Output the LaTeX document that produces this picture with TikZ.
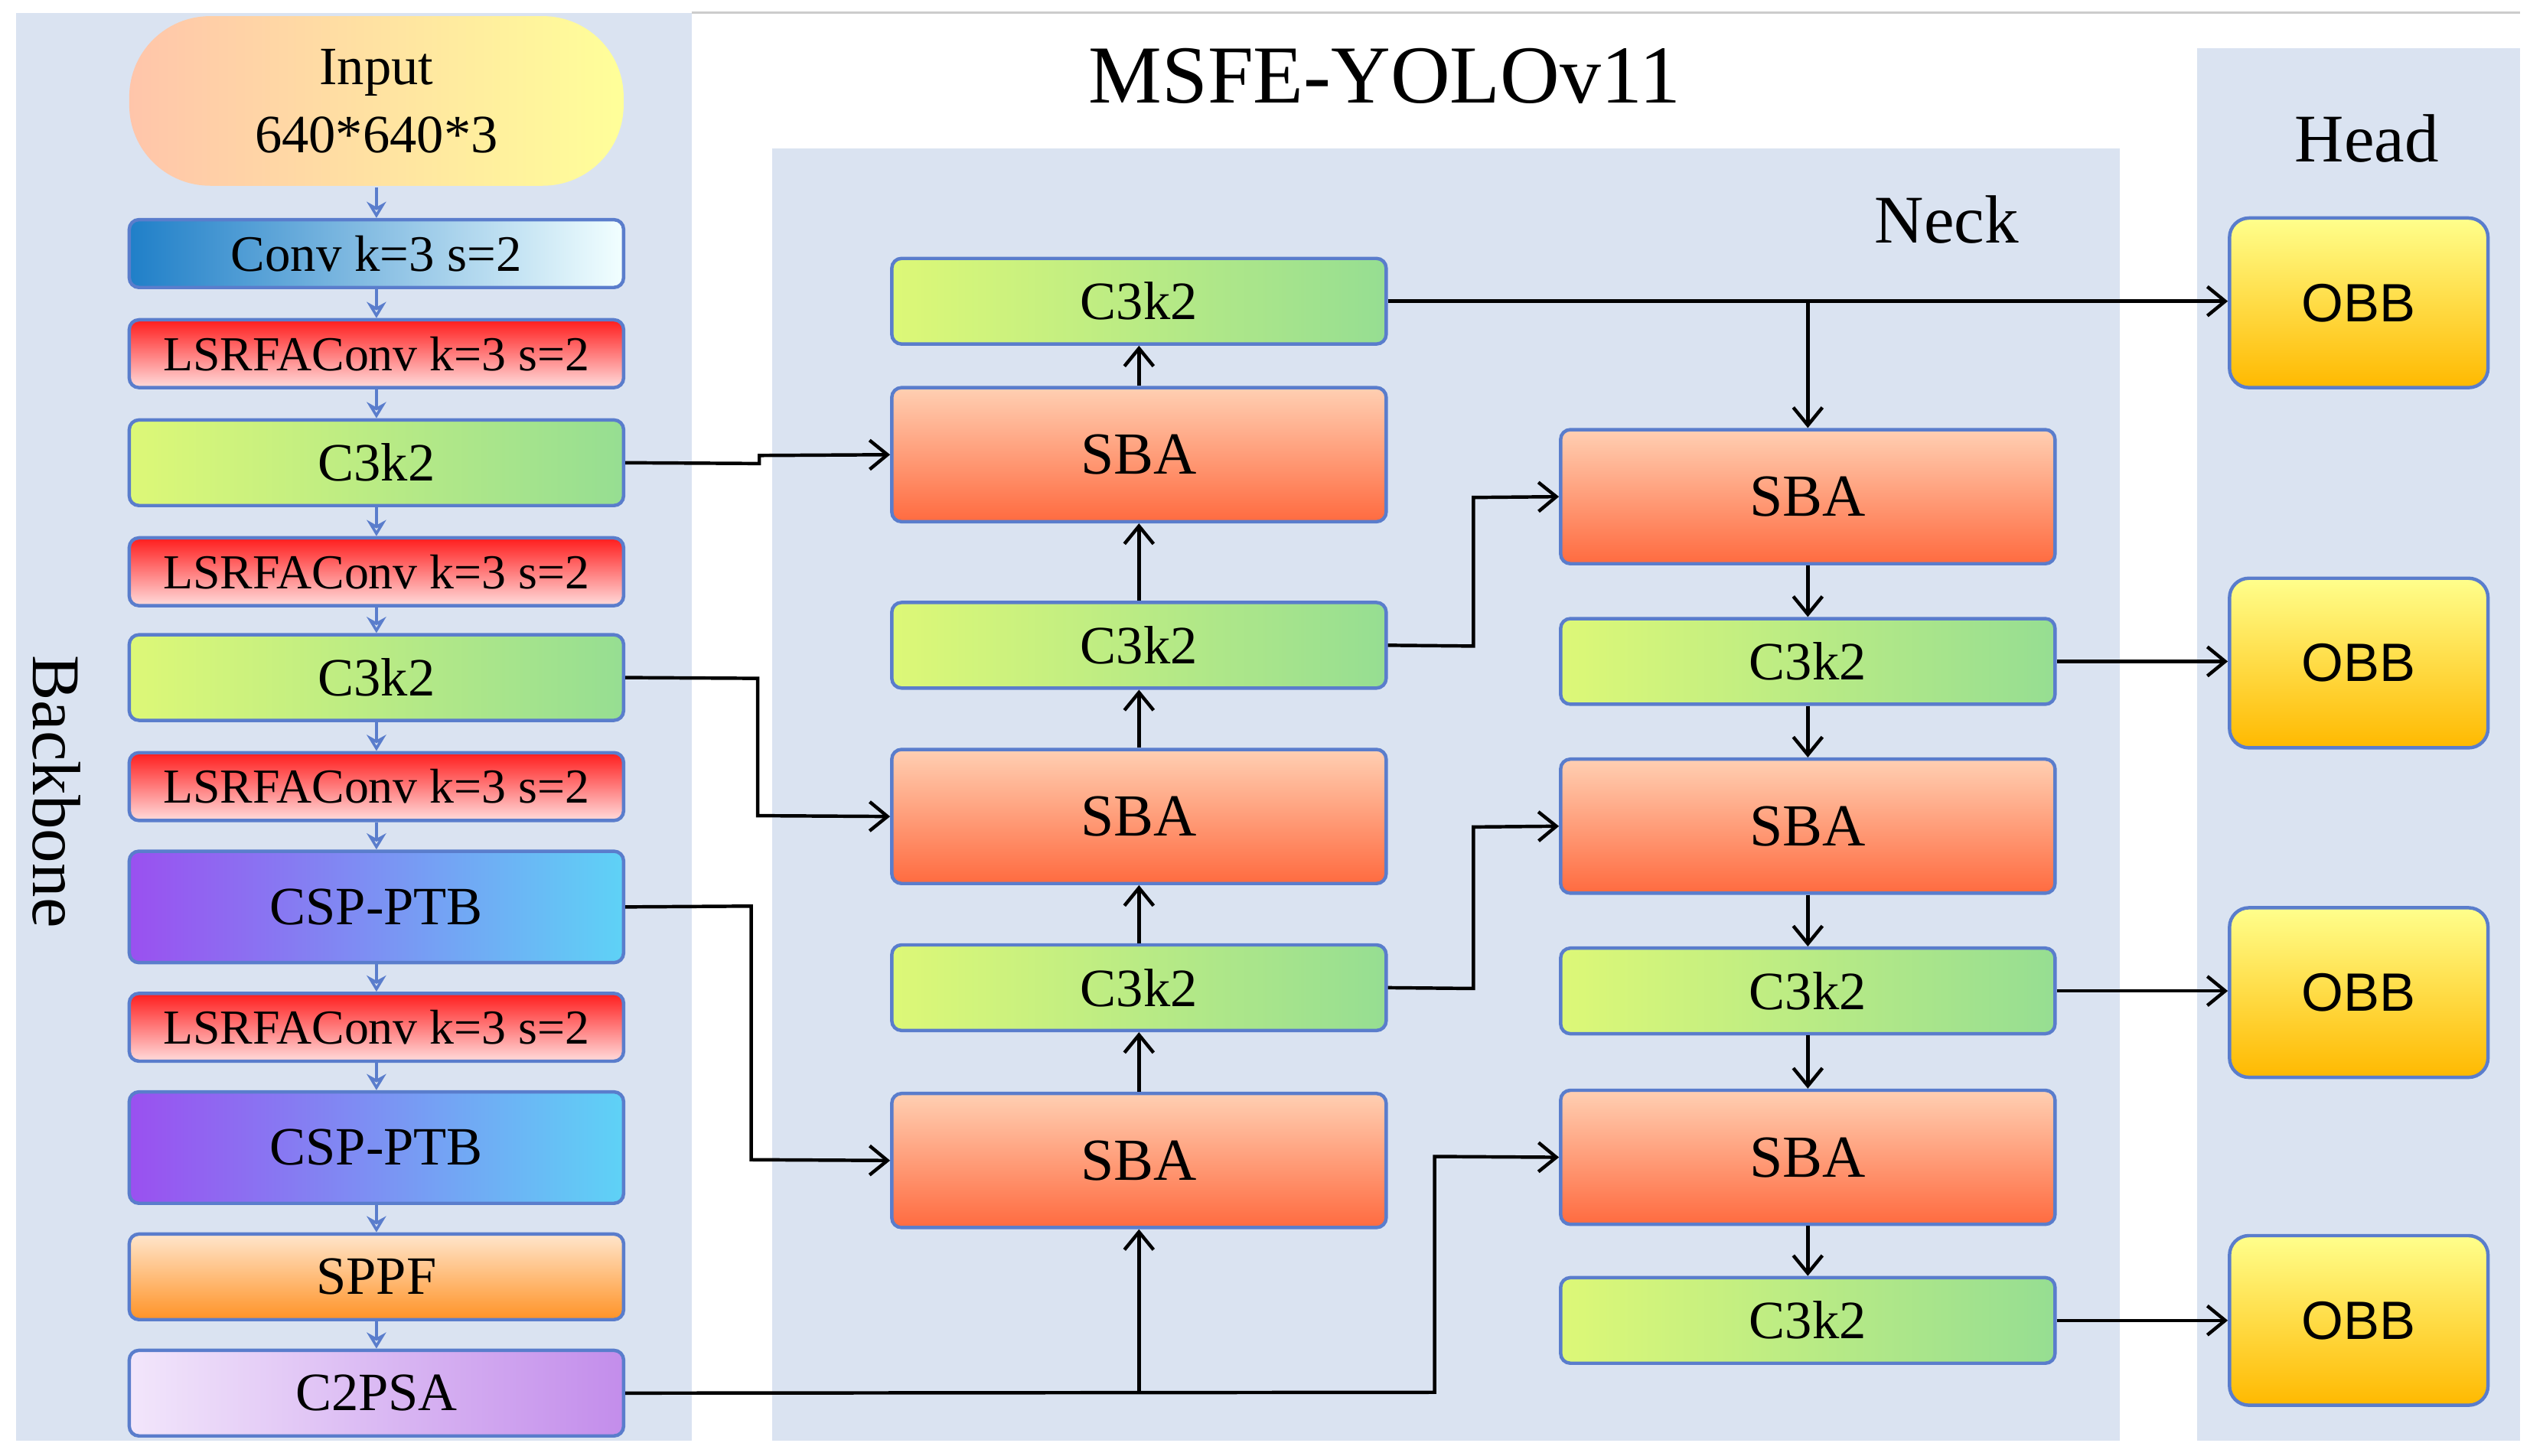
\documentclass[tikz,border=0pt]{standalone}
\usepackage{fontspec}
\setmainfont{Liberation Serif}
\newfontfamily\sansf{Liberation Sans}
\usetikzlibrary{arrows.meta}
\definecolor{panel}{HTML}{DAE3F1}
\definecolor{edge}{HTML}{5A7DCC}
\definecolor{gL}{HTML}{DDF877}
\definecolor{gR}{HTML}{96DE92}
\definecolor{cL}{HTML}{9A50F0}
\definecolor{cR}{HTML}{5ED2F6}
\definecolor{vB}{HTML}{1F7FC8}
\definecolor{pL}{HTML}{F2E6FB}
\definecolor{pR}{HTML}{C38DEB}
\tikzset{
 box/.style={draw=edge,line width=0.6pt,rounded corners=0.06cm,inner sep=0pt,font=\fontsize{9.5}{11}\selectfont},
 conv/.style={box,left color=vB,right color=cyan!5,font=\fontsize{9}{10}\selectfont},
 lsr/.style={box,top color=red!85!pink,bottom color=pink!55,font=\fontsize{8.6}{10}\selectfont},
 grn/.style={box,left color=gL,right color=gR},
 csp/.style={box,left color=cL,right color=cR},
 sppf/.style={box,top color=orange!20,bottom color=orange!85},
 c2p/.style={box,left color=pL,right color=pR},
 sba/.style={box,top color=red!25!orange!30,bottom color=red!55!orange!75,font=\fontsize{10.5}{12}\selectfont},
 obb/.style={box,draw=edge,rounded corners=0.12cm,top color=yellow!45,bottom color=orange!55!yellow,font=\sansf\fontsize{9.5}{11}\selectfont},
 inp/.style={box,draw=none,rounded corners=0.5cm,left color=orange!30!pink!70,right color=yellow!40,align=center,font=\fontsize{9.5}{12}\selectfont},
 ba/.style={-{Stealth[length=1mm,width=1.2mm,open]},draw=edge,line width=0.5pt},
 ar/.style={-{Straight Barb[length=1.1mm,width=1.8mm]},line width=0.6pt}
}
\newcommand\bx[7]{\node[#6,minimum width={(#4-#2)*0.01cm},minimum height={(#5-#3)*0.01cm}] (#1) at ({(#2+#4)/2},{(#3+#5)/2}) {#7};}
\begin{document}
\begin{tikzpicture}[x=0.01cm,y=-0.01cm]
\useasboundingbox (0,0) rectangle (1566,901);
\fill[panel] (10,8) rectangle (428,892);
\fill[panel] (478,92) rectangle (1312,892);
\fill[panel] (1360,30) rectangle (1560,892);
\draw[gray!40,line width=0.4pt] (428,8) -- (1560,8);
\node[font=\fontsize{14.5}{17}\selectfont] (title) at (857,47) {MSFE-YOLOv11};
\node[font=\fontsize{12}{14}\selectfont] (neckl) at (1205,136) {Neck};
\node[font=\fontsize{12}{14}\selectfont] (headl) at (1465,86) {Head};
\node[rotate=-90,font=\fontsize{12}{14}\selectfont] (bbl) at (35,490) {Backbone};
% backbone
\bx{inp}{80}{10}{386}{115}{inp}{Input\\640*640*3}
\bx{b1}{80}{136}{386}{178}{conv}{Conv k=3 s=2}
\bx{b2}{80}{198}{386}{240}{lsr}{LSRFAConv k=3 s=2}
\bx{b3}{80}{260}{386}{313}{grn}{C3k2}
\bx{b4}{80}{333}{386}{375}{lsr}{LSRFAConv k=3 s=2}
\bx{b5}{80}{393}{386}{446}{grn}{C3k2}
\bx{b6}{80}{466}{386}{508}{lsr}{LSRFAConv k=3 s=2}
\bx{b7}{80}{527}{386}{596}{csp}{CSP-PTB}
\bx{b8}{80}{615}{386}{657}{lsr}{LSRFAConv k=3 s=2}
\bx{b9}{80}{676}{386}{745}{csp}{CSP-PTB}
\bx{b10}{80}{764}{386}{817}{sppf}{SPPF}
\bx{b11}{80}{836}{386}{889}{c2p}{C2PSA}
\foreach \a/\b in {inp/b1,b1/b2,b2/b3,b3/b4,b4/b5,b5/b6,b6/b7,b7/b8,b8/b9,b9/b10,b10/b11}
  \draw[ba] (\a.south) -- (\b.north);
% neck col1
\bx{n1}{552}{160}{858}{213}{grn}{C3k2}
\bx{s1}{552}{240}{858}{323}{sba}{SBA}
\bx{n2}{552}{373}{858}{426}{grn}{C3k2}
\bx{s2}{552}{464}{858}{547}{sba}{SBA}
\bx{n3}{552}{585}{858}{638}{grn}{C3k2}
\bx{s3}{552}{677}{858}{760}{sba}{SBA}
% col2
\bx{t1}{966}{266}{1272}{349}{sba}{SBA}
\bx{m1}{966}{383}{1272}{436}{grn}{C3k2}
\bx{t2}{966}{470}{1272}{553}{sba}{SBA}
\bx{m2}{966}{587}{1272}{640}{grn}{C3k2}
\bx{t3}{966}{675}{1272}{758}{sba}{SBA}
\bx{m3}{966}{791}{1272}{844}{grn}{C3k2}
% head
\bx{o1}{1380}{135}{1540}{240}{obb}{OBB}
\bx{o2}{1380}{358}{1540}{463}{obb}{OBB}
\bx{o3}{1380}{562}{1540}{667}{obb}{OBB}
\bx{o4}{1380}{765}{1540}{870}{obb}{OBB}
% connectors
\draw[ar] (b3.east) -- (470,287) -- (470,282) -- (s1.west);
\draw[ar] (b5.east) -- (469,420) -- (469,505) -- (s2.west);
\draw[ar] (b7.east) -- (465,561) -- (465,718) -- (s3.west);
\coordinate (j1) at (705,862);
\draw[ar] (b11.east) -- (888,862) -- (888,716) -- (t3.west);
\draw[ar] (j1) -- (s3.south);
\draw[ar] (s3.north) -- (n3.south);
\draw[ar] (n3.north) -- (s2.south);
\draw[ar] (s2.north) -- (n2.south);
\draw[ar] (n2.north) -- (s1.south);
\draw[ar] (s1.north) -- (n1.south);
\draw[ar] (t1.south) -- (m1.north);
\draw[ar] (m1.south) -- (t2.north);
\draw[ar] (t2.south) -- (m2.north);
\draw[ar] (m2.south) -- (t3.north);
\draw[ar] (t3.south) -- (m3.north);
\coordinate (j2) at (1119,187);
\draw[ar] (n1.east) -- (o1.west |- n1.east);
\draw[ar] (j2) -- (t1.north);
\draw[ar] (n2.east) -- (912,400) -- (912,308) -- (t1.west);
\draw[ar] (n3.east) -- (912,612) -- (912,512) -- (t2.west);
\draw[ar] (m1.east) -- (o2.west |- m1.east);
\draw[ar] (m2.east) -- (o3.west |- m2.east);
\draw[ar] (m3.east) -- (o4.west);
\end{tikzpicture}
\end{document}
